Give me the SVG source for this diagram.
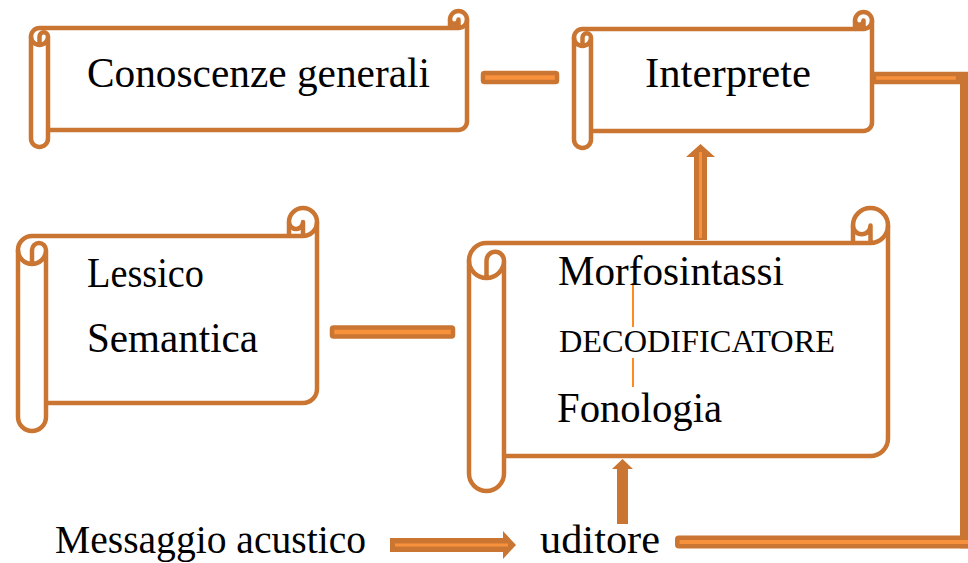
<svg xmlns="http://www.w3.org/2000/svg" width="968" height="563" viewBox="0 0 968 563">
<style>
.scroll{fill:#fff;stroke:#CA7632;stroke-width:4.5;stroke-linejoin:round}
.det{fill:none;stroke:#CA7632;stroke-width:4.5;stroke-linejoin:round}
.bar{fill:#F8913C;stroke:#CA7632;stroke-width:4.5}
.ah{fill:#CA7632}
.stripe{stroke:#F8913C;stroke-width:3;fill:none}
text{font-family:"Liberation Serif","Times New Roman",serif;fill:#000;font-size:42px}
.caps{font-size:31px}
.low{font-size:41px}
</style>
<rect width="968" height="563" fill="#fff"/>
<g id="connectors">
  <rect class="bar" x="483" y="73" width="74" height="9" rx="1.5"/>
  <rect class="bar" x="332" y="327.5" width="121" height="9" rx="1.5"/>
  <polygon class="ah" points="694,240 694,157 686,157 700.5,144 715,157 707,157 707,240"/>
  <line class="stripe" x1="700.5" y1="152" x2="700.5" y2="238"/>
  <polygon class="ah" points="617,524 617,469 612,469 622.5,459 633,469 628,469 628,524"/>
  <polygon class="ah" points="390,538 503,538 503,531 516,545 503,559 503,552 390,552"/>
  <line class="stripe" x1="395" y1="545" x2="508" y2="545"/>
  <rect class="bar" x="962.25" y="74" width="4.5" height="472"/>
  <rect class="bar" x="874" y="74" width="84" height="8"/>
  <rect class="bar" x="677.25" y="537.75" width="300" height="8.5" rx="1.5"/>
</g>
<g id="conoscenze">
  <path class="scroll" d="M31,36.5 A8.5,8.5 0 0 1 39.5,28 L450,28 L450,19.5 A8.5,8.5 0 0 1 467,19.5 L467,121.5 A8.5,8.5 0 0 1 458.5,130 L48,130 L48,138.5 A8.5,8.5 0 0 1 31,138.5 Z"/>
  <path class="det" d="M450,28 L458.5,28 A8.5,8.5 0 0 0 467,19.5 M458.5,28 L458.5,19.5 A4.25,4.25 0 0 1 450,19.5 M39.5,45 L39.5,36.5 A4.25,4.25 0 0 1 48,36.5 A8.5,8.5 0 0 1 31,36.5 M48,36.5 L48,130"/>
  <text x="87" y="87" textLength="343" lengthAdjust="spacingAndGlyphs">Conoscenze generali</text>
</g>
<g id="interprete">
  <path class="scroll" d="M574,37.5 A8.5,8.5 0 0 1 582.5,29 L855,29 L855,20.5 A8.5,8.5 0 0 1 872,20.5 L872,122.5 A8.5,8.5 0 0 1 863.5,131 L591,131 L591,139.5 A8.5,8.5 0 0 1 574,139.5 Z"/>
  <path class="det" d="M855,29 L863.5,29 A8.5,8.5 0 0 0 872,20.5 M863.5,29 L863.5,20.5 A4.25,4.25 0 0 1 855,20.5 M582.5,46 L582.5,37.5 A4.25,4.25 0 0 1 591,37.5 A8.5,8.5 0 0 1 574,37.5 M591,37.5 L591,131"/>
  <text x="645" y="87" textLength="166" lengthAdjust="spacingAndGlyphs">Interprete</text>
</g>
<g id="lessico">
  <path class="scroll" d="M18,250 A14,14 0 0 1 32,236 L289,236 L289,222 A14,14 0 0 1 317,222 L317,389 A14,14 0 0 1 303,403 L46,403 L46,417 A14,14 0 0 1 18,417 Z"/>
  <path class="det" d="M289,236 L303,236 A14,14 0 0 0 317,222 M303,236 L303,222 A7,7 0 0 1 289,222 M32,264 L32,250 A7,7 0 0 1 46,250 A14,14 0 0 1 18,250 M46,250 L46,403"/>
  <text x="87" y="287" textLength="117" lengthAdjust="spacingAndGlyphs">Lessico</text>
  <text x="87" y="352" textLength="171" lengthAdjust="spacingAndGlyphs">Semantica</text>
</g>
<g id="decodificatore">
  <path class="scroll" d="M469,260.5 A17.5,17.5 0 0 1 486.5,243 L853,243 L853,225.5 A17.5,17.5 0 0 1 888,225.5 L888,438.5 A17.5,17.5 0 0 1 870.5,456 L504,456 L504,473.5 A17.5,17.5 0 0 1 469,473.5 Z"/>
  <path class="det" d="M853,243 L870.5,243 A17.5,17.5 0 0 0 888,225.5 M870.5,243 L870.5,225.5 A8.75,8.75 0 0 1 853,225.5 M486.5,278 L486.5,260.5 A8.75,8.75 0 0 1 504,260.5 A17.5,17.5 0 0 1 469,260.5 M504,260.5 L504,456"/>
  <line x1="633" y1="283" x2="633" y2="327" stroke="#FF8A1E" stroke-width="2"/>
  <line x1="633" y1="358" x2="633" y2="387" stroke="#FF8A1E" stroke-width="2"/>
  <text x="558" y="285" textLength="226" lengthAdjust="spacingAndGlyphs">Morfosintassi</text>
  <text class="caps" x="559" y="352" textLength="276" lengthAdjust="spacingAndGlyphs">DECODIFICATORE</text>
  <text x="557" y="422" textLength="165" lengthAdjust="spacingAndGlyphs">Fonologia</text>
</g>
<g id="messaggio">
  <text class="low" x="55" y="553" textLength="311" lengthAdjust="spacingAndGlyphs">Messaggio acustico</text>
</g>
<g id="uditore">
  <text class="low" x="540" y="553" textLength="120" lengthAdjust="spacingAndGlyphs">uditore</text>
</g>
</svg>
